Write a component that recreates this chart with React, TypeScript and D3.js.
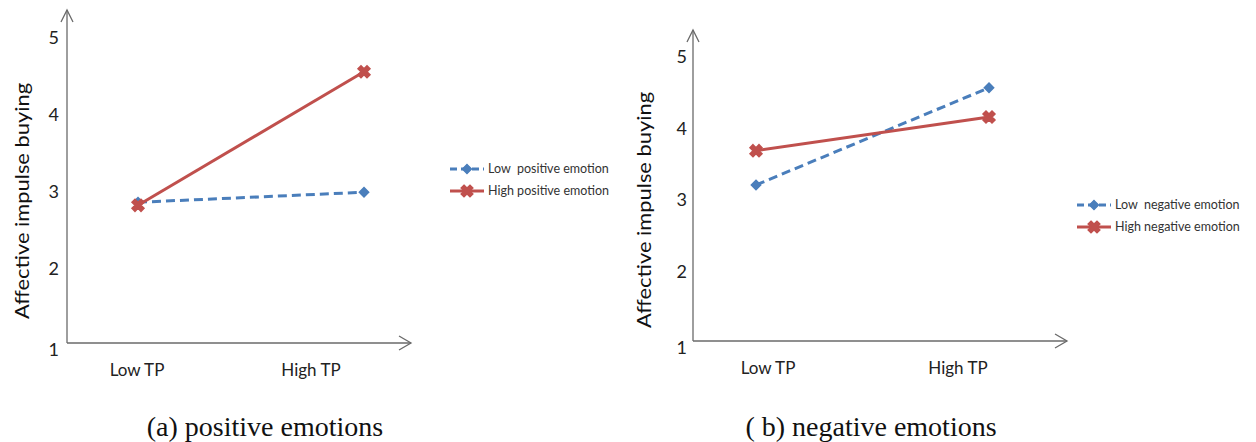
import React from 'react';
import * as d3 from 'd3';

const categories = ['Low TP', 'High TP'];
const yTicks = [1, 2, 3, 4, 5];

// panel (a) positive emotions
const lowPositive = [2.86, 2.99];
const highPositive = [2.82, 4.56];
// panel (b) negative emotions
const lowNegative = [3.21, 4.57];
const highNegative = [3.69, 4.16];

const seriesNamesA = ['Low  positive emotion', 'High positive emotion'];
const seriesNamesB = ['Low  negative emotion', 'High negative emotion'];

const BLUE = '#4a7ebb';
const RED = '#c0504d';
const AXIS = '#6a6a6a';
const SANS = 'Lato, "Open Sans", sans-serif';

type PanelProps = {
  axisX: number;
  axisY: number;
  axisTop: number;
  axisRight: number;
  pointRange: [number, number];
  labelRange: [number, number];
  yRange: [number, number];
  tickX: number;
  yLabelX: number;
  yLabelY: number;
  low: number[];
  high: number[];
  names: string[];
  legendX: number;
  legendY: number;
  caption: string;
  captionX: number;
};

const diamond = d3.symbol(d3.symbolDiamond2, 55)();
const cross = d3.symbol(d3.symbolCross, 90)();

function Panel(p: PanelProps) {
  const x = d3.scalePoint<string>().domain(categories).range(p.pointRange);
  const xl = d3.scalePoint<string>().domain(categories).range(p.labelRange);
  const y = d3.scaleLinear().domain([1, 5]).range(p.yRange);
  const line = d3
    .line<number>()
    .x((_, i) => x(categories[i]) as number)
    .y((d) => y(d));

  const series = [
    { values: p.low, color: BLUE, dash: '9,5', marker: diamond, rot: 0 },
    { values: p.high, color: RED, dash: null, marker: cross, rot: 45 },
  ];

  return (
    <g>
      {/* axes with open arrow heads */}
      <line x1={p.axisX} y1={p.axisY} x2={p.axisX} y2={p.axisTop} stroke={AXIS} strokeWidth={1.3} />
      <path
        d={`M${p.axisX - 6},${p.axisTop + 12}L${p.axisX},${p.axisTop}L${p.axisX + 6},${p.axisTop + 12}`}
        fill="none"
        stroke={AXIS}
        strokeWidth={1.3}
      />
      <line x1={p.axisX} y1={p.axisY} x2={p.axisRight} y2={p.axisY} stroke={AXIS} strokeWidth={1.3} />
      <path
        d={`M${p.axisRight - 12},${p.axisY - 7}L${p.axisRight},${p.axisY}L${p.axisRight - 12},${p.axisY + 7}`}
        fill="none"
        stroke={AXIS}
        strokeWidth={1.3}
      />

      {yTicks.map((t) => (
        <text
          key={t}
          x={p.tickX}
          y={y(t) + (t === 1 ? 5 : 0)}
          dy="0.35em"
          textAnchor="end"
          fontFamily={SANS}
          fontSize={18}
          fill="#222"
        >
          {t}
        </text>
      ))}

      {categories.map((c) => (
        <text
          key={c}
          x={xl(c)}
          y={p.axisY + 33}
          textAnchor="middle"
          fontFamily={SANS}
          fontSize={17}
          fill="#222"
        >
          {c}
        </text>
      ))}

      <text
        transform={`translate(${p.yLabelX},${p.yLabelY}) rotate(-90)`}
        textAnchor="middle"
        dy="0.35em"
        fontFamily={SANS}
        fontSize={20}
        textLength={236}
        lengthAdjust="spacingAndGlyphs"
        fill="#111"
      >
        Affective impulse buying
      </text>

      {series.map((s, si) => (
        <g key={si}>
          <path
            d={line(s.values) as string}
            fill="none"
            stroke={s.color}
            strokeWidth={3}
            strokeDasharray={s.dash ?? undefined}
          />
          {s.values.map((v, i) => (
            <path
              key={i}
              d={s.marker as string}
              transform={`translate(${x(categories[i])},${y(v)}) rotate(${s.rot})`}
              fill={s.color}
              stroke={s.color}
              strokeWidth={1.5}
            />
          ))}
        </g>
      ))}

      {/* legend */}
      {series.map((s, si) => {
        const ly = p.legendY + si * 22;
        return (
          <g key={si}>
            <line
              x1={p.legendX}
              x2={p.legendX + 34}
              y1={ly}
              y2={ly}
              stroke={s.color}
              strokeWidth={3}
              strokeDasharray={s.dash ? '7,4' : undefined}
            />
            <path
              d={s.marker as string}
              transform={`translate(${p.legendX + 17},${ly}) rotate(${s.rot})`}
              fill={s.color}
              stroke={s.color}
              strokeWidth={1.2}
            />
            <text
              x={p.legendX + 38}
              y={ly}
              dy="0.35em"
              fontFamily={SANS}
              fontSize={12.5}
              fill="#333"
              style={{ whiteSpace: 'pre' }}
            >
              {p.names[si]}
            </text>
          </g>
        );
      })}

      <text
        x={p.captionX}
        y={436}
        textAnchor="middle"
        fontFamily='"Liberation Serif", "Times New Roman", serif'
        fontSize={28}
        fill="#111"
      >
        {p.caption}
      </text>
    </g>
  );
}

export default function App() {
  return (
    <svg
      width={1256}
      height={442}
      style={{ position: 'absolute', left: 0, top: 0, background: '#fff' }}
    >
      <Panel
        axisX={67}
        axisY={343}
        axisTop={10}
        axisRight={411}
        pointRange={[138, 364]}
        labelRange={[137, 311]}
        yRange={[345, 38]}
        tickX={59}
        yLabelX={22}
        yLabelY={201}
        low={lowPositive}
        high={highPositive}
        names={seriesNamesA}
        legendX={450}
        legendY={169}
        caption="(a) positive emotions"
        captionX={265}
      />
      <Panel
        axisX={693}
        axisY={341}
        axisTop={30}
        axisRight={1067}
        pointRange={[756, 989]}
        labelRange={[768, 958]}
        yRange={[343, 57]}
        tickX={687}
        yLabelX={644}
        yLabelY={210}
        low={lowNegative}
        high={highNegative}
        names={seriesNamesB}
        legendX={1077}
        legendY={205}
        caption="( b) negative emotions"
        captionX={871}
      />
    </svg>
  );
}
